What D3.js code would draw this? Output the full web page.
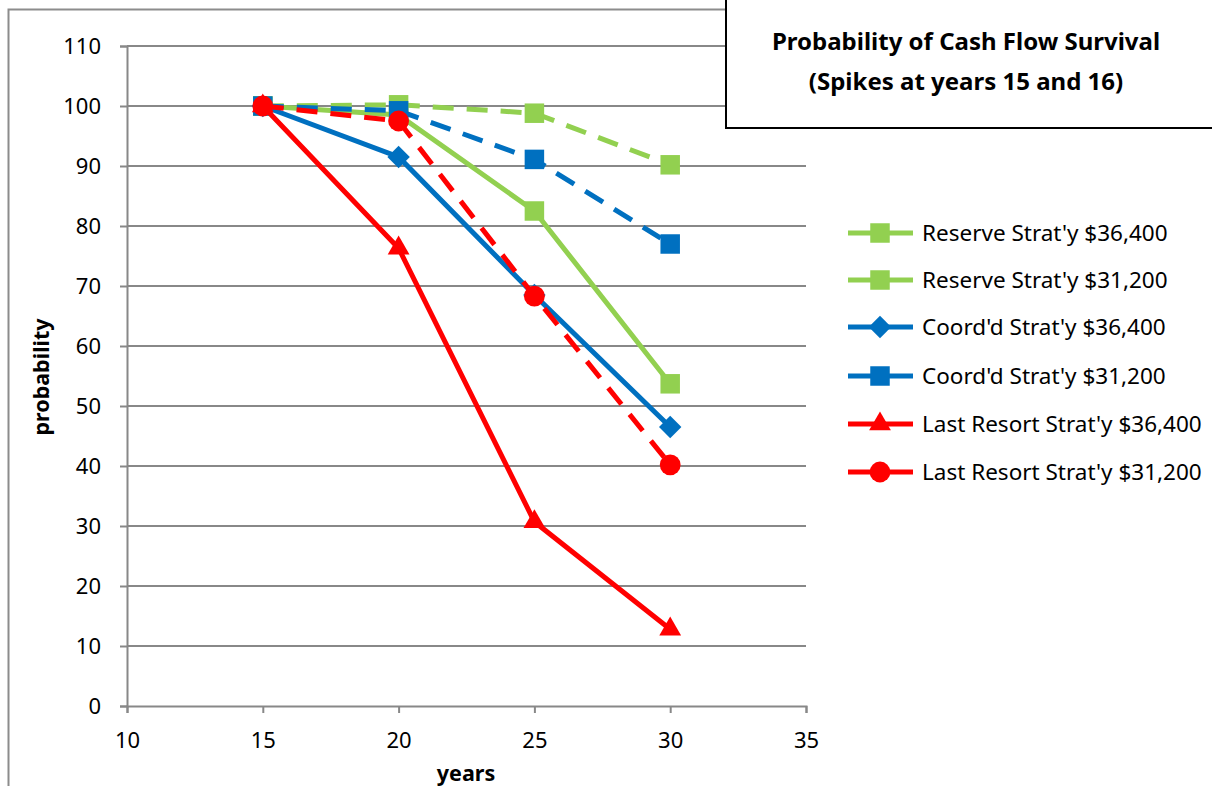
<!DOCTYPE html>
<html>
<head>
<meta charset="utf-8">
<script src="https://cdn.jsdelivr.net/npm/d3@7"></script>
<style>
  html, body { margin: 0; padding: 0; background: #fff; }
  svg { display: block; font-family: "Noto Sans", "Open Sans", sans-serif; }
</style>
</head>
<body>
<svg id="chart" width="1212" height="786"></svg>
<script>
// Survival probabilities by horizon year, one array per strategy / spending level
const years = [15, 20, 25, 30];
const reserve36400 = [100, 98.5, 82.5, 53.7];
const reserve31200 = [100, 100.2, 98.8, 90.2];
const coord36400 = [100, 91.5, 68.5, 46.5];
const coord31200 = [100, 99.2, 91.1, 77.0];
const lastResort36400 = [100, 76.3, 30.7, 12.8];
const lastResort31200 = [100, 97.5, 68.3, 40.2];

const seriesNames = [
  "Reserve Strat'y $36,400",
  "Reserve Strat'y $31,200",
  "Coord'd Strat'y $36,400",
  "Coord'd Strat'y $31,200",
  "Last Resort Strat'y $36,400",
  "Last Resort Strat'y $31,200"
];
const seriesValues = [reserve36400, reserve31200, coord36400, coord31200, lastResort36400, lastResort31200];
const seriesColors = ["#92D050", "#92D050", "#0070C0", "#0070C0", "#FF0000", "#FF0000"];
const seriesDashed = [false, true, false, true, false, true];
const seriesMarkers = ["square", "square", "diamond", "square", "triangle", "circle"];

const xTicks = [10, 15, 20, 25, 30, 35];
const yTicks = [0, 10, 20, 30, 40, 50, 60, 70, 80, 90, 100, 110];

const chartTitle = ["Probability of Cash Flow Survival", "(Spikes at years 15 and 16)"];
const xTitle = "years";
const yTitle = "probability";

const svg = d3.select("#chart");
const plot = { left: 127, right: 806, top: 46, bottom: 706 };

const x = d3.scaleLinear().domain([10, 35]).range([plot.left, plot.right]);
const y = d3.scaleLinear().domain([0, 110]).range([plot.bottom, plot.top]);

// outer chart frame (runs off the right and bottom edges)
svg.append("path")
  .attr("d", "M8.5,1212 L8.5,9.5 L1212,9.5")
  .attr("fill", "none").attr("stroke", "#8c8c8c").attr("stroke-width", 2);

// horizontal gridlines
svg.append("g").selectAll("line").data(yTicks.filter(d => d > 0)).join("line")
  .attr("x1", plot.left).attr("x2", plot.right)
  .attr("y1", d => y(d)).attr("y2", d => y(d))
  .attr("stroke", "#888").attr("stroke-width", 2);

// axes
const yAxis = d3.axisLeft(y).tickValues(yTicks).tickSize(7).tickPadding(19).tickFormat(d3.format("d"));
const xAxis = d3.axisBottom(x).tickValues(xTicks).tickSize(7).tickPadding(19).tickFormat(d3.format("d"));

const gy = svg.append("g").attr("transform", `translate(${plot.left},0)`).call(yAxis);
const gx = svg.append("g").attr("transform", `translate(0,${plot.bottom})`).call(xAxis);
[gx, gy].forEach(g => {
  g.select(".domain").attr("stroke", "#888").attr("stroke-width", 2);
  g.selectAll(".tick line").attr("stroke", "#888").attr("stroke-width", 2);
  g.selectAll(".tick text").attr("fill", "#000").attr("font-size", 22)
    .attr("font-family", "'Noto Sans', sans-serif");
});

// axis titles
svg.append("text").attr("x", 466).attr("y", 781).attr("text-anchor", "middle")
  .attr("font-weight", "bold").attr("font-size", 21.5).text(xTitle);
svg.append("text").attr("transform", "translate(49,377) rotate(-90)").attr("text-anchor", "middle")
  .attr("font-weight", "bold").attr("font-size", 21.5).text(yTitle);

// marker shapes
const markerPath = (type) => {
  const sym = {
    square: d3.symbol(d3.symbolSquare, 380),
    diamond: d3.symbol(d3.symbolDiamond2, 320),
    triangle: d3.symbol(d3.symbolTriangle2, 340),
    circle: d3.symbol(d3.symbolCircle, 340)
  }[type];
  return sym();
};

const line = d3.line().x((d, i) => x(years[i])).y(d => y(d));

// series lines and markers (later series drawn on top)
seriesValues.forEach((vals, s) => {
  const g = svg.append("g");
  g.append("path").datum(vals).attr("d", line)
    .attr("fill", "none").attr("stroke", seriesColors[s]).attr("stroke-width", 5)
    .attr("stroke-dasharray", seriesDashed[s] ? "21,13" : null);
  g.selectAll("path.marker").data(vals).join("path").attr("class", "marker")
    .attr("transform", (d, i) => `translate(${x(years[i])},${y(d)})`)
    .attr("d", markerPath(seriesMarkers[s]))
    .attr("fill", seriesColors[s]);
});

// legend
const legendRows = [233, 280, 327, 376, 424, 472];
const legend = svg.append("g");
seriesNames.forEach((name, s) => {
  const ly = legendRows[s];
  legend.append("line").attr("x1", 848).attr("x2", 913).attr("y1", ly).attr("y2", ly)
    .attr("stroke", seriesColors[s]).attr("stroke-width", 5);
  legend.append("path").attr("transform", `translate(880,${ly})`)
    .attr("d", markerPath(seriesMarkers[s])).attr("fill", seriesColors[s]);
  legend.append("text").attr("x", 922).attr("y", ly).attr("dy", "0.35em")
    .attr("font-size", 22.5).attr("fill", "#000").text(name);
});

// title box
svg.append("rect").attr("x", 726).attr("y", -2).attr("width", 500).attr("height", 130)
  .attr("fill", "#fff").attr("stroke", "#000").attr("stroke-width", 2);
chartTitle.forEach((t, i) => {
  svg.append("text").attr("x", 966).attr("y", 50 + i * 40).attr("text-anchor", "middle")
    .attr("font-weight", "bold").attr("font-size", 24).attr("fill", "#000").text(t);
});
</script>
</body>
</html>
